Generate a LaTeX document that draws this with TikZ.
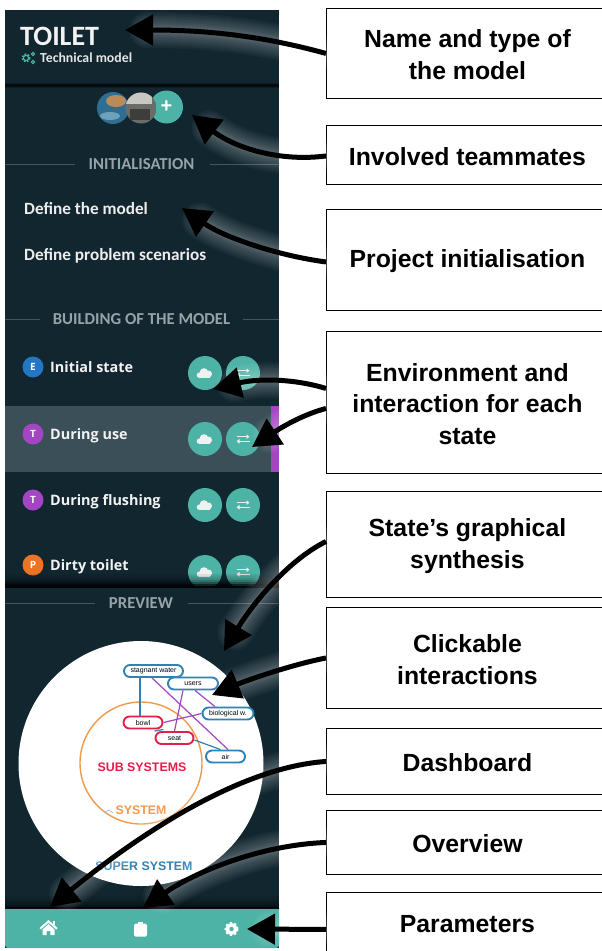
\documentclass[tikz,border=0pt]{standalone}
\usepackage{fontspec}
\setmainfont{Liberation Sans}
\newfontfamily\uifont{Carlito}
\newfontfamily\stfont{Open Sans}
\usetikzlibrary{arrows.meta}
\definecolor{paneldark}{HTML}{11262F}
\definecolor{rowlight}{HTML}{3A4F58}
\definecolor{tealui}{HTML}{4DB3A6}
\definecolor{purpleui}{HTML}{A445C4}
\definecolor{blueui}{HTML}{2276C4}
\definecolor{orangeui}{HTML}{EE7425}
\definecolor{greyhead}{HTML}{98A3A8}
\definecolor{ruleline}{HTML}{46565D}
\definecolor{synred}{HTML}{E0204A}
\definecolor{synorange}{HTML}{F09A4C}
\definecolor{synblue}{HTML}{2E82B4}
\definecolor{avblue}{HTML}{2F6E93}
\definecolor{avbrown}{HTML}{B98A5A}
\definecolor{avsky}{HTML}{6FA0BA}
\definecolor{avgrey}{HTML}{6B6B68}
\definecolor{avlight}{HTML}{C9C7C1}
\definecolor{avdark}{HTML}{3D3D3B}
\tikzset{
  callout/.style={draw=black,line width=0.9pt,fill=white,minimum width=277pt,anchor=north west,inner sep=0pt},
  callouttext/.style={align=center,inner sep=0pt,font=\bfseries\fontsize{24.8}{31.8}\selectfont},
  heading/.style={text=greyhead,font=\uifont\bfseries\fontsize{16.7}{18}\selectfont},
  menuitem/.style={text=white!93!black,anchor=west,inner sep=0pt,font=\uifont\bfseries\fontsize{17.2}{20}\selectfont},
  statename/.style={text=white!95!black,anchor=west,inner sep=0pt,text height=11pt,text depth=3.5pt,font=\stfont\bfseries\fontsize{14.4}{18}\selectfont},
  badge/.style={circle,minimum size=21pt,inner sep=0pt,text=white,font=\stfont\bfseries\fontsize{10}{12}\selectfont},
  roundbtn/.style={circle,fill=tealui,minimum size=34pt,inner sep=0pt},
  uirule/.style={ruleline,line width=0.9pt},
  syn/.style={draw,fill=white,rounded corners=6pt,line width=1.9pt,inner sep=0pt,minimum height=12pt,font=\fontsize{7}{8}\selectfont},
  synbox/.style={syn,draw=synblue},
  redbox/.style={syn,draw=synred},
  synlink/.style={line width=1.2pt,draw=purpleui},
  synlinkb/.style={line width=1.2pt,draw=synblue},
  systext/.style={inner sep=0pt,font=\bfseries\fontsize{12.4}{14}\selectfont},
  arrowline/.style={black,line width=5pt,-{Triangle[length=28pt,width=30pt]}},
  arrowglow/.style={white,line width=#1,opacity=0.035,line cap=round,shorten >=22pt},
  pics/cloudicon/.style={code={
    \fill[white!94!black] (-5.5,2.2) circle (2.8) (-1,-0.5) circle (4.3) (3.5,1) circle (3.5);
    \fill[white!94!black] (-5.5,1.8) rectangle (5,5);
  }},
  pics/swapicon/.style={code={
    \draw[white!92!black,line width=1.4pt,-{Triangle[length=3pt,width=4.5pt]}] (-6.5,-2.3) -- (6.5,-2.3);
    \draw[white!92!black,line width=1.4pt,-{Triangle[length=3pt,width=4.5pt]}] (6.5,2.3) -- (-6.5,2.3);
  }},
  pics/gearicon/.style={code={
    \draw[white,line width=2pt,dash pattern=on 2.2pt off 2.2pt] (0,0) circle (6);
    \fill[white] (0,0) circle (5.8);
    \fill[tealui] (0,0) circle (2.2);
  }},
}
\newcommand{\calloutarrow}[1]{%
  \foreach \w in {36pt,32pt,28pt,24pt,20pt,16pt,13pt,10pt,8pt}{\draw[arrowglow=\w] #1;}%
  \draw[arrowline] #1;}
\newcommand{\boxat}[5]{% name, x, ytop, height, text
  \node[callout,minimum height=#4pt] (#1) at (#2,#3) {};
  \node[callouttext] (#1t) at ([xshift=2.5pt,yshift=-1.5pt]#1.center) {#5};}
\begin{document}
\begin{tikzpicture}[x=1pt,y=-1pt]
\useasboundingbox (0,0) rectangle (602,951);
\fill[white] (0,0) rectangle (602,951);
% panel
\fill[paneldark] (5,10) rectangle (279,948);
\foreach \y/\o in {83/0.25,84/0.6,85/0.8,86/0.6,87/0.25}{\fill[black,opacity=\o] (5,\y) rectangle (279,\y+1);}
% title
\node[anchor=west,inner sep=0pt,text=white!95!black,font=\uifont\bfseries\fontsize{28}{30}\selectfont] (title) at (20,36) {TOILET};
\node[anchor=west,inner sep=0pt,text=white!90!black,font=\uifont\bfseries\fontsize{13.8}{15}\selectfont] (modeltype) at (40,58) {Technical model};
\draw[tealui,line width=2pt,dash pattern=on 1.6pt off 1.4pt] (26,58) circle (3.6);
\draw[tealui,line width=1.1pt] (26,58) circle (2.6);
\draw[tealui,line width=1pt] (33,54) circle (1.7) (33,62) circle (1.7);
% teammates
\node[circle,fill=tealui,minimum size=33pt,inner sep=0pt,text=white,font=\bfseries\fontsize{20}{20}\selectfont] (addmate) at (166.5,107) {+};
\begin{scope}
  \clip (113,108) circle (16);
  \fill[avblue] (97,92) rectangle (129,124);
  \fill[avbrown] (116,101) ellipse (10 and 6);
  \fill[avsky] (110,116) ellipse (10 and 4);
\end{scope}
\begin{scope}
  \clip (141,108) circle (15.5);
  \fill[avgrey] (125,92) rectangle (157,124);
  \fill[avlight] (125,92) rectangle (152,104);
  \fill[avdark] (130,109) rectangle (150,120);
\end{scope}
% section: initialisation
\node[heading] (hinit) at (141.5,164) {INITIALISATION};
\draw[uirule] (5,164) -- (75,164);
\draw[uirule] (210,164) -- (279,164);
\node[menuitem] (define) at (24,209) {Define the model};
\node[menuitem] (scen) at (24,256) {Define problem scenarios};
% section: building
\node[heading] (hbuild) at (141.5,319) {BUILDING OF THE MODEL};
\draw[uirule] (5,319) -- (40,319);
\draw[uirule] (243,319) -- (279,319);
% highlighted row
\fill[rowlight] (5,406) rectangle (271,472);
\fill[purpleui] (271,406) rectangle (279,472);
% states
\node[badge,fill=blueui] (be) at (33,367) {E};
\node[statename] (s1) at (50,369) {Initial state};
\node[badge,fill=purpleui] (bt) at (33,434) {T};
\node[statename] (s2) at (50,436) {During use};
\node[badge,fill=purpleui] (bf) at (33,500) {T};
\node[statename] (s3) at (50,502) {During flushing};
\node[badge,fill=orangeui] (bp) at (33,565) {P};
\node[statename] (s4) at (50,567) {Dirty toilet};
\foreach \n/\y in {a/373,b/439,c/505,d/572}{
  \node[roundbtn] (cl\n) at (205,\y) {};
  \node[roundbtn] (sw\n) at (243,\y) {};
  \pic at (cl\n) {cloudicon};
  \pic at (sw\n) {swapicon};
}
% dark fade at bottom of list
\foreach \y/\o in {574/0.08,576/0.14,578/0.22,580/0.35,582/0.55,584/0.8}{\fill[black,opacity=\o] (5,\y) rectangle (279,\y+2);}
\fill[paneldark] (5,586) rectangle (279,595);
\fill[black,opacity=0.85] (5,586) rectangle (279,587.5);
% preview
\node[heading] (hprev) at (141,603) {PREVIEW};
\draw[uirule] (5,603) -- (95,603);
\draw[uirule] (188,603) -- (279,603);
\fill[white] (141,763.5) circle (122.5);
\draw[synorange,line width=1.4pt] (141,763) circle (61);
\node[systext,text=synred] (subsys) at (142,767) {SUB SYSTEMS};
\node[systext,text=synorange] (sysl) at (141,810) {SYSTEM};
\node[systext,text=synblue] (supsys) at (144,866) {SUPER SYSTEM};
\draw[synblue!45,line width=0.8pt] (104,813) -- (109,810) -- (113,813);
\node[synbox,minimum width=59pt] (water) at (153.5,671) {stagnant water};
\node[redbox,minimum width=39pt] (bowl) at (143,722.5) {bowl};
\node[redbox,minimum width=38pt] (seat) at (174.5,738) {seat};
\node[synbox,minimum width=39pt] (air) at (225.5,756.5) {air};
\node[synbox,minimum width=51pt] (bio) at (228,713.5) {biological w.};
\draw[synlinkb] ([xshift=-13.5pt]water.south) -- ([xshift=-3pt]bowl.north);
\draw[synlink] ([xshift=-1.5pt]water.south) -- ([xshift=2.5pt]air.north);
\draw[synlinkb] ([yshift=-2pt]seat.east) -- ([xshift=-5pt]air.north);
\draw[synlinkb] (bowl.south east) -- (seat.north west);
\draw[synlink] (bowl.east) -- (bio.west);
\node[synbox,minimum width=50pt] (users) at (193,683.5) {users};
\draw[synlink] ([xshift=-10pt]users.south) -- (seat.north);
\draw[synlink] ([xshift=2pt]users.south) -- ([xshift=-13pt]bio.north);
% bottom bar
\foreach \y/\o in {896/0.08,899/0.16,902/0.3,905/0.5,907/0.7}{\fill[black,opacity=\o] (5,\y) rectangle (279,\y+3);}
\fill[tealui,rounded corners=3pt] (5,909) rectangle (279,948);
\fill[tealui] (5,909) rectangle (279,930);
\begin{scope}[shift={(48.5,928)}]
  \fill[white] (-9,0) -- (0,-8) -- (9,0) -- (7.8,1.5) -- (0,-5.2) -- (-7.8,1.5) -- cycle;
  \fill[white] (-6,1.5) -- (0,-3.8) -- (6,1.5) -- (6,7) -- (1.8,7) -- (1.8,3) -- (-1.8,3) -- (-1.8,7) -- (-6,7) -- cycle;
  \fill[white] (4.5,-7) rectangle (6.5,-3);
\end{scope}
\begin{scope}[shift={(140.5,929)}]
  \fill[white,rounded corners=1.5pt] (-6.5,-5.5) rectangle (6.5,7.5);
  \fill[white] (-2.5,-7.5) rectangle (2.5,-4);
\end{scope}
\pic at (231.5,929) {gearicon};
% callout boxes
\boxat{n1}{326}{8}{90}{Name and type of\\the model}
\boxat{n2}{326}{125}{59}{Involved teammates}
\boxat{n3}{326}{209}{101}{Project initialisation}
\boxat{n4}{326}{331}{142}{Environment and\\interaction for each\\state}
\boxat{n5}{326}{491}{106}{State's graphical\\synthesis}
\boxat{n6}{326}{607}{101}{Clickable\\interactions}
\boxat{n7}{326}{728}{66}{Dashboard}
\boxat{n8}{326}{810}{64}{Overview}
\boxat{n9}{326}{892}{60}{Parameters}
% arrows
\coordinate (t1) at (125,30);
\coordinate (t2) at (192,115);
\coordinate (t3) at (182,208);
\coordinate (t4) at (213,389);
\coordinate (t5) at (252,447);
\coordinate (t6) at (224,651);
\coordinate (t7) at (212,695);
\coordinate (t8) at (50,907);
\coordinate (t9) at (143,908);
\coordinate (t10) at (247,929);
\calloutarrow{(n1.west) .. controls (270,38) and (215,30) .. (t1)}
\calloutarrow{([yshift=-1pt]n2.west) .. controls (280,162) and (235,148) .. (t2)}
\calloutarrow{([yshift=-2pt]n3.west) .. controls (280,256) and (225,238) .. (t3)}
\calloutarrow{([yshift=14pt]n4.west) .. controls (295,379) and (260,378) .. (t4)}
\calloutarrow{([yshift=-6pt]n4.west) .. controls (305,414) and (285,425) .. (t5)}
\calloutarrow{([yshift=3pt]n5.west) .. controls (285,562) and (250,608) .. (t6)}
\calloutarrow{(n6.west) .. controls (290,665) and (245,681) .. (t7)}
\calloutarrow{(n7.west) .. controls (230,768) and (120,850) .. (t8)}
\calloutarrow{(n8.west) .. controls (260,845) and (195,872) .. (t9)}
\calloutarrow{([yshift=-7pt]n9.west) -- (t10)}
\end{tikzpicture}
\end{document}
